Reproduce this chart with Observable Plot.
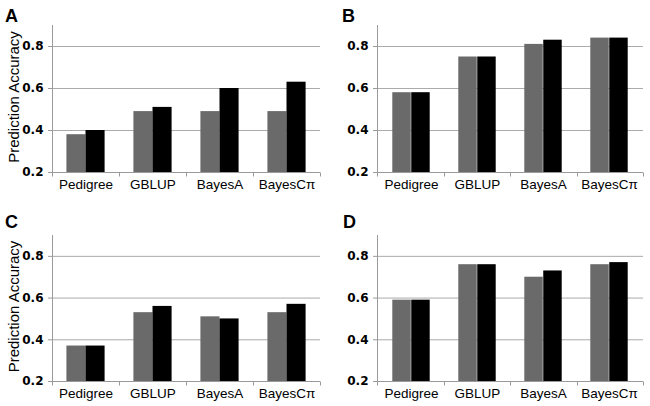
<!DOCTYPE html>
<html><head><meta charset="utf-8">
<script src="https://cdn.jsdelivr.net/npm/d3@7"></script>
<script src="https://cdn.jsdelivr.net/npm/@observablehq/plot@0.6"></script>
<style>
html,body{margin:0;padding:0;background:#fff;overflow:hidden}
#fig{position:relative;width:650px;height:406px;background:#fff}
.panel{position:absolute}
.letter{position:absolute;font:bold 18px "Liberation Sans",Arial,sans-serif;line-height:18px;color:#000}
</style></head><body><div id="fig"></div>
<script>
// ---- data ----
const categories = ["Pedigree", "GBLUP", "BayesA", "BayesCπ"];
const panelLetters = ["A", "B", "C", "D"];
const grayA  = [0.38, 0.49, 0.49, 0.49];
const blackA = [0.40, 0.51, 0.60, 0.63];
const grayB  = [0.58, 0.75, 0.81, 0.84];
const blackB = [0.58, 0.75, 0.83, 0.84];
const grayC  = [0.37, 0.53, 0.51, 0.53];
const blackC = [0.37, 0.56, 0.50, 0.57];
const grayD  = [0.59, 0.76, 0.70, 0.76];
const blackD = [0.59, 0.76, 0.73, 0.77];
const yTicks = [0.2, 0.4, 0.6, 0.8];
const yDomain = [0.2, 0.9];
const yTitle = "Prediction Accuracy";

const grayValues = [grayA, grayB, grayC, grayD];
const blackValues = [blackA, blackB, blackC, blackD];

// ---- layout (positions & styles) ----
const layout = [
  {left: 0,   top: 0,   ml: 52, mr: 5, mt: 25, mb: 31, title: true,  lx: 5,   ly: 7},
  {left: 325, top: 0,   ml: 52, mr: 7, mt: 25, mb: 31, title: false, lx: 342, ly: 7},
  {left: 0,   top: 203, ml: 52, mr: 5, mt: 32, mb: 25, title: true,  lx: 5,   ly: 213},
  {left: 325, top: 203, ml: 52, mr: 7, mt: 32, mb: 25, title: false, lx: 343, ly: 213}
];
const W = 325, H = 203;
const axisColor = "#9a9a9a";
const gridColor = "#ababab";
const grayFill = "#6a6a6a";
const blackFill = "#000000";

function axisLines(n) {
  return (index, scales, values, dims) => {
    const {width, marginLeft, marginRight, marginTop} = dims;
    const y0 = Math.round(scales.y(yDomain[0])) + 0.5;
    const x0 = Math.round(marginLeft) + 0.5;
    const g = d3.create("svg:g").attr("stroke", axisColor).attr("stroke-width", 1).attr("fill", "none");
    g.append("line").attr("x1", x0).attr("x2", width - marginRight).attr("y1", y0).attr("y2", y0);
    g.append("line").attr("x1", x0).attr("x2", x0).attr("y1", marginTop).attr("y2", y0 + 4);
    const step = (width - marginLeft - marginRight) / n;
    for (let i = 1; i <= n; i++) {
      const x = Math.round(marginLeft + i * step) + 0.5;
      g.append("line").attr("x1", x).attr("x2", x).attr("y1", y0).attr("y2", y0 + 4);
    }
    return g.node();
  };
}

const fig = document.getElementById("fig");
layout.forEach((L, p) => {
  const data = categories.map((c, i) => ({category: c, gray: grayValues[p][i], black: blackValues[p][i]}));
  const step = (W - L.ml - L.mr) / categories.length;
  const outer = step * 0.215;
  const half = step * 0.5;
  const marks = [
    Plot.gridY(yTicks.slice(1), {stroke: gridColor, strokeOpacity: 1}),
    Plot.barY(data, {x: "category", y: "gray", fill: grayFill, insetLeft: outer, insetRight: half}),
    Plot.barY(data, {x: "category", y: "black", fill: blackFill, insetLeft: half, insetRight: outer}),
    axisLines(categories.length),
    Plot.axisY({ticks: yTicks, tickSize: 4, tickPadding: 5, tickFormat: d3.format(".1f"),
      stroke: axisColor, fill: "#000", fontWeight: "bold", fontFamily: "DejaVu Sans, sans-serif",
      fontSize: 12, label: null}),
    Plot.axisX({tickSize: 0, tickPadding: 7, fontSize: 13.5, fill: "#000",
      fontFamily: "Liberation Sans, Arial, sans-serif", label: null})
  ];
  if (L.title) {
    marks.push(Plot.text([yTitle], {frameAnchor: "left", textAnchor: "middle", lineAnchor: "middle",
      rotate: -90, dx: -38, dy: -2,
      fontSize: 15, fontFamily: "Liberation Sans, Arial, sans-serif", fill: "#000"}));
  }
  const chart = Plot.plot({
    width: W, height: H,
    marginLeft: L.ml, marginRight: L.mr, marginTop: L.mt, marginBottom: L.mb,
    style: {background: "transparent", overflow: "visible"},
    x: {domain: categories, padding: 0},
    y: {domain: yDomain, clamp: true},
    marks
  });
  chart.classList.add("panel");
  chart.style.left = L.left + "px";
  chart.style.top = L.top + "px";
  fig.appendChild(chart);
  const letter = document.createElement("div");
  letter.className = "letter";
  letter.textContent = panelLetters[p];
  letter.style.left = L.lx + "px";
  letter.style.top = L.ly + "px";
  fig.appendChild(letter);
});
</script>
</body></html>
